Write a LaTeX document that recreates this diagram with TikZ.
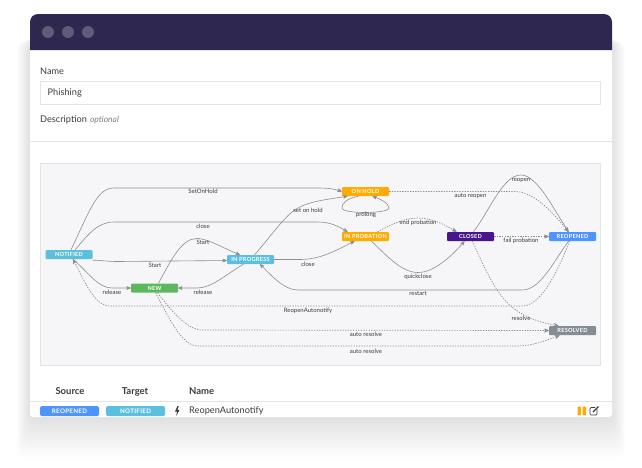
\documentclass[tikz,border=0pt]{standalone}
\usepackage{fontspec}
\usepackage{xcolor}
\usepackage{tikz}
\usetikzlibrary{arrows}
\setmainfont{Lato}
\newfontfamily\tagfont[LetterSpace=5.0]{Lato}
\definecolor{barcol}{HTML}{2E2850}
\definecolor{dotcol}{HTML}{5F5B78}
\definecolor{panelcol}{HTML}{F6F6F9}
\definecolor{linecol}{HTML}{E4E4E6}
\definecolor{textcol}{HTML}{3C3C3C}
\definecolor{wirecol}{HTML}{8E8E8E}
\definecolor{cyancol}{HTML}{5BC0DE}
\definecolor{greencol}{HTML}{5CB85C}
\definecolor{ambercol}{HTML}{FFAB00}
\definecolor{purplecol}{HTML}{4A148C}
\definecolor{bluecol}{HTML}{4D94FF}
\definecolor{greycol}{HTML}{848C94}
\tikzset{
  etat/.style={rounded corners=1pt,minimum width=47pt,minimum height=9pt,inner sep=0pt,
    text=white,font=\tagfont\bfseries\fontsize{5.6}{7}\selectfont},
  badge/.style={rounded corners=1.5pt,minimum width=59pt,minimum height=10pt,inner sep=0pt,
    text=white,font=\tagfont\bfseries\fontsize{6.2}{7}\selectfont},
  lbl/.style={inner sep=0pt,text=textcol,font=\fontsize{6}{7}\selectfont},
  ui/.style={inner sep=0pt,anchor=west,text=textcol,font=\fontsize{9.2}{12}\selectfont},
  head/.style={inner sep=0pt,anchor=base,text=textcol,font=\bfseries\fontsize{9.5}{11}\selectfont},
  flow/.style={->,>=stealth',draw=wirecol,line width=.6pt},
  auto flow/.style={flow,line width=.7pt,dash pattern=on 1.3pt off 1.3pt}
}
\begin{document}
\begin{tikzpicture}[x=1pt,y=-1pt]
\useasboundingbox (0,0) rectangle (642,467);
% shadow
\foreach \g in {1,...,30}
  \fill[black,opacity=.004,rounded corners=10pt] (30-\g*.45,40) rectangle (612+\g*.45,417+\g*1.4);
% window
\fill[white,rounded corners=3pt] (30,30) rectangle (612,417);
\fill[barcol] (30,50) {[rounded corners=8pt] -- (30,14) -- (612,14)} -- (612,50) -- cycle;
\foreach \x in {48,68,88}
  \fill[dotcol] (\x,32) circle (6);

\node[ui]  (name) at (40,71) {Name};
\node[draw=linecol,fill=white,minimum width=560pt,minimum height=23pt,inner sep=0pt] (field) at (320,92.5) {};
\node[ui]  (phishing) at (47.5,93) {Phishing};
\node[ui]  (descr) at (40,120) {Description\hspace{3pt}{\itshape\color{gray}\fontsize{8.5}{9}\selectfont optional}};
\draw[linecol] (30,141) -- (612,141);
\draw[linecol,fill=panelcol] (40,163.5) rectangle (600.5,365.5);

% states
\node[etat,fill=cyancol]   (notified) at (69,254.5)    {NOTIFIED};
\node[etat,fill=cyancol]   (progress) at (250.5,259.5) {IN PROGRESS};
\node[etat,fill=greencol]  (new)      at (154.5,288)   {NEW};
\node[etat,fill=ambercol]  (hold)     at (365.5,191.5) {ON HOLD};
\node[etat,fill=ambercol]  (probation) at (365.5,236.5) {IN PROBATION};
\node[etat,fill=purplecol] (closed)   at (470.5,236.5) {CLOSED};
\node[etat,fill=bluecol]   (reopened) at (572.5,236.5) {REOPENED};
\node[etat,fill=greycol]   (resolved) at (572.5,330.5) {RESOLVED};

% plain transitions
\draw[flow] ([xshift=2pt]notified.north) .. controls (90,210) and (97,188) .. (114,188)
  -- (318,188) .. controls (328,188) and (335,189) .. (hold.west);
\draw[flow] ([xshift=6pt]notified.north) .. controls (88,235) and (97,222) .. (114,222)
  -- (318,222) .. controls (330,222) and (338,226) .. ([xshift=-18pt]probation.north);
\draw[flow] ([yshift=-1pt]notified.south east) .. controls (100,260) and (105,261.5) .. (118,261.5)
  -- (progress.west |- 0,260.5);
\draw[flow] ([xshift=-7pt]progress.south) .. controls (225,275) and (212,288) .. (197,288) -- (new.east);
\draw[flow] ([xshift=4pt]notified.south) .. controls (88,272) and (98,288) .. (112,288) -- (new.west);
\draw[flow] ([xshift=4pt]new.north) .. controls (172,258) and (182,238.5) .. (197,238.5)
  .. controls (208,238.5) and (225,249) .. ([xshift=-10.5pt]progress.north);
\draw[flow] ([xshift=4pt]progress.north) .. controls (272,235) and (286,214) .. (298,208)
  .. controls (310,201) and (330,199) .. ([xshift=-18pt]hold.south);
\draw[flow] (progress.east) -- (300,259.5) .. controls (320,259.5) and (335,251) .. ([xshift=-11pt]probation.south);
\draw[flow] ([xshift=-7pt]hold.south) .. controls (345,199) and (342,204) .. (342,208)
  .. controls (342,214) and (388,214) .. (389,208) .. controls (389,203) and (380,199) .. ([xshift=7pt]hold.south);
\draw[flow] ([xshift=-4pt]reopened.south) .. controls (552,264) and (540,290) .. (522,290)
  -- (298,290) .. controls (284,290) and (272,276) .. ([xshift=9.5pt]progress.south);
\draw[flow] ([xshift=6pt]probation.south) .. controls (388,257) and (402,272.5) .. (418,272.5)
  .. controls (434,272.5) and (452,256) .. ([xshift=-6pt]closed.south);
\draw[flow] ([xshift=3pt]closed.north) .. controls (490,210) and (503,175) .. (521,175)
  .. controls (537,175) and (553,208) .. ([xshift=-4pt]reopened.north);

% automatic transitions
\draw[auto flow] ([xshift=-3pt]reopened.south) .. controls (556,276) and (540,306) .. (522,306)
  -- (110,306) .. controls (94,306) and (84,280) .. ([xshift=4pt]notified.south);
\draw[auto flow] ([xshift=3pt]new.south) .. controls (172,312) and (188,330) .. (202,330) -- (resolved.west);
\draw[auto flow] ([xshift=1pt]new.south) .. controls (170,320) and (182,346) .. (198,346)
  -- (518,346) .. controls (532,346) and (548,340) .. ([xshift=-13pt]resolved.south);
\draw[auto flow] (hold.east) -- (515,191.5) .. controls (535,191.5) and (555,215) .. ([xshift=-4pt]reopened.north);
\draw[auto flow] ([xshift=12pt]probation.north) .. controls (392,224) and (405,218) .. (418,218)
  .. controls (431,218) and (444,224) .. ([xshift=-14pt]closed.north);
\draw[auto flow] (closed.east) -- (reopened.west);
\draw[auto flow] ([xshift=2pt]closed.south) .. controls (485,270) and (497,295) .. (512,307)
  .. controls (525,318) and (542,323) .. ([xshift=-14pt]resolved.north);

% labels
\node[lbl] (l1)  at (203,191.5) {SetOnHold};
\node[lbl] (l2)  at (203,226)   {close};
\node[lbl] (l3)  at (155,265.5) {Start};
\node[lbl] (l4)  at (203,242.5) {Start};
\node[lbl] (l5)  at (112,292.5) {release};
\node[lbl] (l6)  at (203,292.5) {release};
\node[lbl] (l7)  at (308,210.5) {set on hold};
\node[lbl] (l8)  at (308,264)   {close};
\node[lbl] (l9)  at (366,214.5) {prolong};
\node[lbl] (l10) at (470.5,196) {auto reopen};
\node[lbl] (l11) at (418,222.5) {end probation};
\node[lbl] (l12) at (521,241)   {fail probation};
\node[lbl] (l13) at (521,180.5) {reopen};
\node[lbl] (l14) at (418,277)   {quickclose};
\node[lbl] (l15) at (418,294)   {restart};
\node[lbl] (l16) at (308,311)   {ReopenAutonotify};
\node[lbl] (l17) at (521,318.5) {resolve};
\node[lbl] (l18) at (366,334.5) {auto resolve};
\node[lbl] (l19) at (366,351)   {auto resolve};

% table
\node[head] (source) at (70,394)   {Source};
\node[head] (target) at (135,394)  {Target};
\node[head,anchor=base west] (title)  at (189,394) {Name};
\draw[linecol] (30,401) -- (612,401);
\node[badge,fill=bluecol] (rowsource) at (69.5,411) {REOPENED};
\node[badge,fill=cyancol] (rowtarget) at (135.5,411) {NOTIFIED};
\fill[textcol] (177.5,406) -- (175,411.5) -- (177,411.5) -- (176.3,416) -- (179.5,409.8) -- (177.4,409.8) -- (178.8,406) -- cycle;
\node[ui]  (rowname) at (189,411) {ReopenAutonotify};
\fill[ambercol] (577.5,406.5) rectangle (581,415) (582.5,406.5) rectangle (586,415);
\draw[textcol,line width=.7pt,rounded corners=1pt] (597,409) -- (597,415) -- (590,415) -- (590,407.5) -- (595,407.5);
\draw[textcol,line width=1.2pt] (593,412) -- (598.5,406.5);
\end{tikzpicture}
\end{document}
